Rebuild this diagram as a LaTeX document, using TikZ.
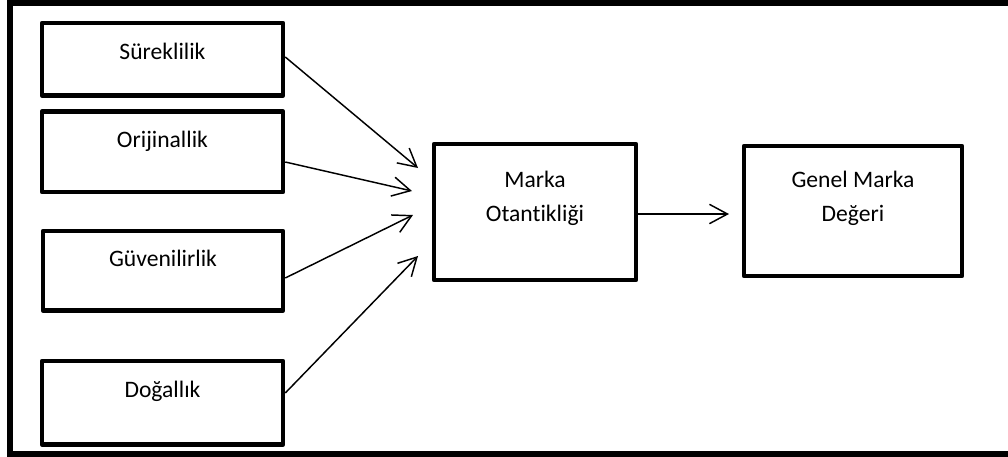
\documentclass[tikz,border=0pt]{standalone}
\usepackage{fontspec}
\setmainfont{Carlito}[Ligatures=NoCommon]
\usetikzlibrary{arrows.meta,calc}

\begin{document}
\begin{tikzpicture}[x=0.75pt,y=-0.75pt,
  box/.style={draw=black,line width=3.4pt,line join=round,fill=white,inner sep=0pt},
  lbl/.style={anchor=base,align=center,inner sep=0pt,
    font=\fontsize{17.7}{25}\selectfont},
  link/.style={draw=black,line width=1.1pt,
    -{Straight Barb[length=13.5pt,width=14.5pt,line width=1.1pt]}}
]
  % page area
  \useasboundingbox (0,0) rectangle (1008,457);
  \fill[white] (0,0) rectangle (1008,457);

  % outer frame (runs past the right edge of the page)
  \begin{scope}
    \clip (0,0) rectangle (1008,457);
    \draw[line width=3.8pt] (10,3) rectangle (1020,454);
  \end{scope}

  % left-hand boxes
  \node[box,minimum width=241pt*0.75,minimum height=72.5pt*0.75] (sur) at (162.5,59.25) {};
  \node[box,minimum width=241pt*0.75,minimum height=80.5pt*0.75] (ori) at (162.5,151.75) {};
  \node[box,minimum width=240pt*0.75,minimum height=79.5pt*0.75] (guv) at (163,270.75) {};
  \node[box,minimum width=241pt*0.75,minimum height=83.5pt*0.75] (dog) at (162.5,402.75) {};

  % central and right boxes
  \node[box,minimum width=202pt*0.75,minimum height=136pt*0.75] (mo) at (535,212) {};
  \node[box,minimum width=218pt*0.75,minimum height=130pt*0.75] (gmd) at (853,211) {};

  % labels (base anchor sits on the last line)
  \node[lbl] (tsur) at (162.5,59) {Süreklilik};
  \node[lbl] (tori) at (162.5,147) {Orijinallik};
  \node[lbl] (tguv) at (163,266) {Güvenilirlik};
  \node[lbl] (tdog) at (162.5,397) {Doğallık};
  \node[lbl] (tmo) at (535,221) {Marka\\Otantikliği};
  \node[lbl] (tgmd) at (853,221) {Genel Marka\\Değeri};

  % arrow tips in front of the boxes they point to
  \coordinate (t1) at (418,168);
  \coordinate (t2) at (412,191);
  \coordinate (t3) at (413,215);
  \coordinate (t4) at (418,256);
  \coordinate (t5) at (729,214);

  % connectors
  \draw[link] ($(sur.east)+(0,-2.25)$) -- (t1);
  \draw[link] ($(ori.east)+(0,10.25)$) -- (t2);
  \draw[link] ($(guv.east)+(0,7.25)$) -- (t3);
  \draw[link] ($(dog.east)+(0,-9.75)$) -- (t4);
  \draw[link] ($(mo.east)+(0,2)$) -- (t5);
\end{tikzpicture}
\end{document}
